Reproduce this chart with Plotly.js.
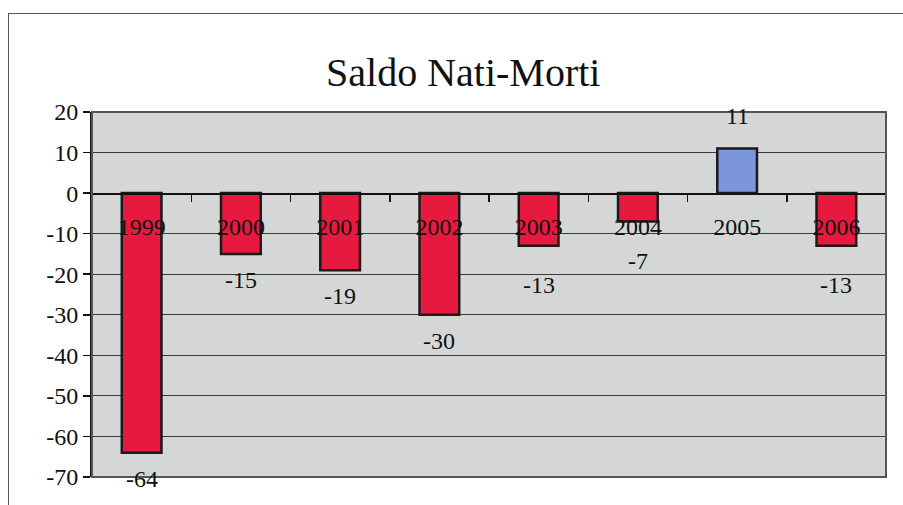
<!DOCTYPE html>
<html>
<head>
<meta charset="utf-8">
<script src="https://cdn.plot.ly/plotly-3.0.1.min.js"></script>
<style>
  html, body { margin: 0; padding: 0; background: #fff; }
  #chart { width: 903px; height: 505px; position: relative; }
  #frame { position: absolute; left: 8px; top: 13px; width: 900px; height: 500px;
           border-top: 1.5px solid #555; border-left: 1.5px solid #555; pointer-events: none; }
</style>
</head>
<body>
<div id="chart"></div>
<div id="frame"></div>
<script>
const years = ["1999", "2000", "2001", "2002", "2003", "2004", "2005", "2006"];
const saldo = [-64, -15, -19, -30, -13, -7, 11, -13];
const yTicks = [20, 10, 0, -10, -20, -30, -40, -50, -60, -70];

const FONT = "Liberation Serif, Times New Roman, serif";
const barColors = saldo.map(v => v >= 0 ? "#7b96dc" : "#e8193e");

const trace = {
  type: "bar",
  x: years,
  y: saldo,
  marker: { color: barColors, line: { color: "#1a1a1a", width: 2.5 } },
  hoverinfo: "x+y"
};

const annotations = saldo.map((v, i) => {
  let shift = v >= 0 ? 33 : -26;
  if (v < 0 && v > -14) shift = -39;
  return {
    x: i, y: v, xref: "x", yref: "y",
    text: String(v), showarrow: false,
    yshift: shift,
    font: { family: FONT, size: 24, color: "#111" }
  };
});

const layout = {
  width: 903, height: 505,
  margin: { l: 92, r: 17, t: 112, b: 28 },
  paper_bgcolor: "rgba(0,0,0,0)",
  plot_bgcolor: "#d5d7d7",
  showlegend: false,
  bargap: 0.6,
  font: { family: FONT },
  title: {
    text: "Saldo Nati-Morti",
    font: { family: FONT, size: 40, color: "#111" },
    x: 0.513, xanchor: "center", y: 0.858, yanchor: "middle"
  },
  xaxis: {
    type: "category",
    range: [-0.5, years.length - 0.5],
    anchor: "free",
    position: 70 / 90,
    showline: true, linecolor: "#111", linewidth: 1.5,
    ticks: "outside", tickson: "boundaries", ticklen: 7, tickcolor: "#111", tickwidth: 1.5,
    ticklabelstandoff: 12,
    tickangle: 0,
    showgrid: false,
    tickfont: { family: FONT, size: 24, color: "#111" }
  },
  yaxis: {
    range: [-70, 20],
    tickmode: "array",
    tickvals: yTicks,
    ticktext: yTicks.map(String),
    showline: true, linecolor: "#111", linewidth: 2,
    ticks: "outside", ticklen: 7, tickcolor: "#111", tickwidth: 1.5,
    showgrid: true, gridcolor: "#3a3a3a", gridwidth: 1,
    zeroline: false,
    tickfont: { family: FONT, size: 24, color: "#111" }
  },
  shapes: [{
    type: "rect", xref: "paper", yref: "paper", x0: 0, x1: 1, y0: 0, y1: 1,
    line: { color: "#555", width: 2 }, layer: "above"
  }],
  annotations: annotations
};

Plotly.newPlot("chart", [trace], layout, { displayModeBar: false, staticPlot: true });
</script>
</body>
</html>
